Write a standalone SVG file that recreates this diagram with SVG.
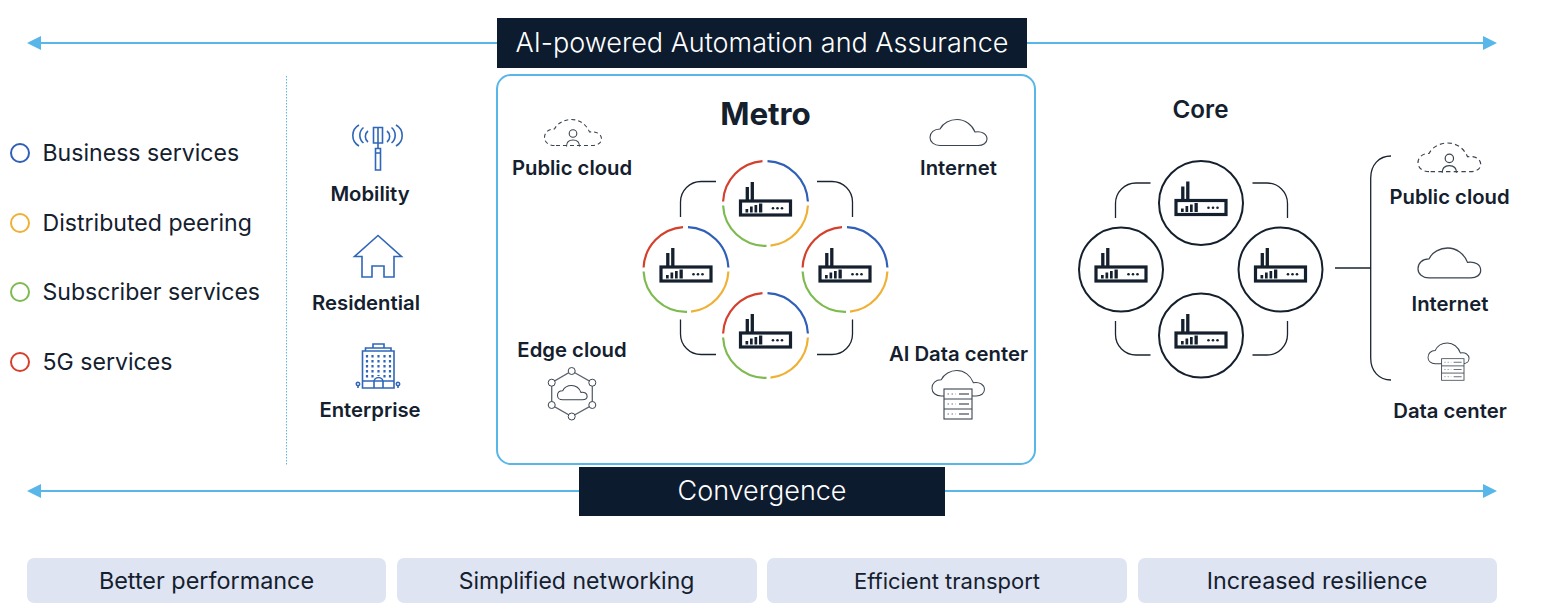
<svg xmlns="http://www.w3.org/2000/svg" width="1548" height="611" viewBox="0 0 1548 611">
<style>
text{font-family:Inter,"Liberation Sans",sans-serif;fill:#14202e}
.lbl{font-size:20.300px;font-weight:600;text-anchor:middle}
.leg{font-size:23.100px}
.pill{fill:#dfe4f2}
.pt{text-anchor:middle}
.ban{fill:#0d1b2e}
.bt{font-size:27px;font-weight:300;fill:#fff;text-anchor:middle}
.blue{fill:none;stroke:#58b7e8;stroke-width:2}
.con{fill:none;stroke:#1a2430;stroke-width:1.300}
.ic{fill:none;stroke:#2f66b8;stroke-width:1.600}
.arc{fill:none;stroke-width:2.200}
.ring{fill:#fff;stroke:#14202e;stroke-width:2}
</style>
<defs>
<marker id="ah" markerUnits="userSpaceOnUse" markerWidth="14" markerHeight="14" refX="0" refY="7" orient="auto-start-reverse"><path d="M0 0L14 7L0 14Z" fill="#58b7e8"/></marker>
<path id="cl" d="M10 26C4 26 0 22.500 0 18C0 13 4 9.500 10 9.500C13 3.500 20 0 27 0C35 0 42 5 45 12.500C52 11.500 57 14.500 57 19.500C57 23.500 53 26 48 26Z"/>
<g id="rt">
<rect x="-25" y="-2.500" width="50" height="14" fill="#fff" stroke="#14202e" stroke-width="3.200"/>
<path d="M-18.200-3V-16.500M-13.200-3V-21.500" fill="none" stroke="#14202e" stroke-width="3.300"/>
<path d="M-20 9H-17.300V5.500H-20ZM-15.500 9H-12.800V3H-15.500ZM-11 9H-8.300V1.500H-11ZM-6.500 9H-3.200V0H-6.500Z" fill="#14202e"/>
<circle cx="7.500" cy="4.800" r="1.300" fill="#14202e"/><circle cx="12" cy="4.800" r="1.300" fill="#14202e"/><circle cx="16.500" cy="4.800" r="1.300" fill="#14202e"/>
</g>
<g id="cr">
<path class="arc" stroke="#2f5fb8" d="M2 -42.400A42.500 42.500 0 0 1 42.400 -2"/>
<path class="arc" stroke="#efb034" d="M42.400 2A42.500 42.500 0 0 1 5 42.200"/>
<path class="arc" stroke="#7dba50" d="M1 42.400A42.500 42.500 0 0 1 -42.400 2"/>
<path class="arc" stroke="#d4402c" d="M-42.400 -2A42.500 42.500 0 0 1 -3 -42.400"/>
<use href="#rt"/>
</g>
<g id="kr"><circle r="42" class="ring"/><use href="#rt"/></g>
<g id="pub">
<path d="M10 26C4 26 0 22.500 0 18C0 13 4 9.500 10 9.500C13 3.500 20 0 27 0C35 0 42 5 45 12.500C52 11.500 57 14.500 57 19.500C57 23.500 53 26 48 26Z" fill="none" stroke="#3b4450" stroke-width="1.100" stroke-dasharray="4 3"/>
<circle cx="28.500" cy="14" r="3.800" fill="none" stroke="#3b4450" stroke-width="1.100"/>
<path d="M22 27C22 22 25 20.500 28.500 20.500C32 20.500 35 22 35 27" fill="none" stroke="#3b4450" stroke-width="1.100"/>
</g>
<g id="dc">
<rect x="12" y="19" width="28" height="30" fill="#fff" stroke="#3b4450" stroke-width="1.100"/>
<path d="M12 29H40M12 39H40" stroke="#3b4450" stroke-width="1.100"/>
<path d="M15.500 24H24M15.500 34H24M15.500 44H24" stroke="#6a727c" stroke-width="1" stroke-dasharray="1.500 2.500"/>
<path d="M27 24H37M27 34H37M27 44H37" stroke="#6a727c" stroke-width="1.300"/>
</g>
</defs>

<g id="connectors">
<path class="blue" marker-start="url(#ah)" d="M41 43H497"/>
<path class="blue" marker-end="url(#ah)" d="M1027 43H1483"/>
<path class="blue" marker-start="url(#ah)" d="M41 491H579"/>
<path class="blue" marker-end="url(#ah)" d="M945 491H1483"/>
<path d="M286.500 76V466" fill="none" stroke="#58b7e8" stroke-width="1" stroke-dasharray="1.500 1.500"/>
<path class="con" d="M716 181.500H701A20.500 20.500 0 0 0 680.500 202V217"/>
<path class="con" d="M817 181.500H832A20.500 20.500 0 0 1 852.500 202V217"/>
<path class="con" d="M680.500 319.500V334A20.500 20.500 0 0 0 701 354.500H716"/>
<path class="con" d="M852.500 319.500V334A20.500 20.500 0 0 1 832 354.500H817"/>
<path class="con" d="M1150.500 183H1136A20.500 20.500 0 0 0 1115.500 203.500V218"/>
<path class="con" d="M1252.500 183H1267A20.500 20.500 0 0 1 1287.500 203.500V218"/>
<path class="con" d="M1115.500 321V334.500A20.500 20.500 0 0 0 1136 355H1150.500"/>
<path class="con" d="M1287.500 321V334.500A20.500 20.500 0 0 1 1267 355H1252.500"/>
<path class="con" d="M1391 156C1379 156 1370.700 165 1370.700 178V358C1370.700 371 1379 380 1391 380M1335 268H1370.700"/>
</g>

<g id="frame"><rect x="497" y="75" width="538" height="389" rx="14" fill="none" stroke="#58b7e8" stroke-width="2"/></g>
<g id="banner-top"><rect class="ban" x="497" y="18" width="530" height="50"/><text class="bt" x="762" y="52">AI-powered Automation and Assurance</text></g>
<g id="banner-bottom"><rect class="ban" x="579" y="467" width="366" height="49"/><text class="bt" x="762" y="500">Convergence</text></g>

<g id="legend">
<circle cx="20" cy="153" r="9" fill="none" stroke="#2f5fb8" stroke-width="2"/><text class="leg" x="42.500" y="161">Business services</text>
<circle cx="20" cy="223" r="9" fill="none" stroke="#efb034" stroke-width="2"/><text class="leg" x="42.500" y="231">Distributed peering</text>
<circle cx="20" cy="292" r="9" fill="none" stroke="#7dba50" stroke-width="2"/><text class="leg" x="42.500" y="300">Subscriber services</text>
<circle cx="20" cy="362" r="9" fill="none" stroke="#d4402c" stroke-width="2"/><text class="leg" x="42.500" y="370">5G services</text>
</g>

<g id="mobility">
<path class="ic" d="M359 125A12 12 0 0 0 359 146M363.500 127.500A10 10 0 0 0 363.500 143M368 131A7 7 0 0 0 368 142M396 125A12 12 0 0 1 396 146M391.500 127.500A10 10 0 0 1 391.500 143M387 131A7 7 0 0 1 387 142"/>
<path class="ic" d="M373.500 127.500H382.500V143H373.500ZM378 127V149M375.500 148.500H380.500V170H375.500ZM375.500 153H380.500"/>
<text class="lbl" x="370" y="201">Mobility</text>
</g>
<g id="residential">
<path class="ic" d="M378 235.500L354.500 256.500H362V277H372V266H384V277H394V256.500H401.500Z"/>
<text class="lbl" x="366" y="310">Residential</text>
</g>
<g id="enterprise">
<path class="ic" d="M362.500 351H394V388H362.500ZM365.500 348H391V351H365.500ZM373 344H384V348H373ZM362.500 381H394"/>
<path d="M367 355V378M372.500 355V378M378.500 355V376M384.500 355V378M390 355V378" stroke="#2f66b8" stroke-width="2.200" stroke-dasharray="2.500 2.500" fill="none"/>
<path class="ic" d="M374 388V382A4.500 4.500 0 0 1 383 382V388M358 385V388M398 385V388"/>
<circle class="ic" cx="358" cy="384" r="1.700"/><circle class="ic" cx="398" cy="384" r="1.700"/>
<text class="lbl" x="370" y="417">Enterprise</text>
</g>

<g id="metro-title"><text x="765.500" y="125" font-size="31.400" font-weight="700" text-anchor="middle">Metro</text></g>
<g id="metro-public"><use href="#pub" transform="translate(544.500 119.500)"/><text class="lbl" x="572" y="175">Public cloud</text></g>
<g id="metro-internet"><use href="#cl" x="930" y="119.500" fill="none" stroke="#3b4450" stroke-width="1.100"/><text class="lbl" x="958.500" y="175">Internet</text></g>
<g id="metro-edge">
<text class="lbl" x="572" y="357">Edge cloud</text>
<path fill="none" stroke="#5c646e" stroke-width="1.300" d="M571.700 371L592.300 382.700V405L571.700 416.500L551.700 405V382.700Z"/>
<g fill="#fff" stroke="#3b4450" stroke-width="1"><circle cx="571.700" cy="371" r="3.500"/><circle cx="592.300" cy="382.700" r="3.500"/><circle cx="592.300" cy="405" r="3.500"/><circle cx="571.700" cy="416.500" r="3.500"/><circle cx="551.700" cy="405" r="3.500"/><circle cx="551.700" cy="382.700" r="3.500"/></g>
<use href="#cl" transform="translate(557.500 385.500) scale(.52 .55)" fill="none" stroke="#3b4450" stroke-width="2"/>
</g>
<g id="metro-ai"><text class="lbl" x="958.500" y="361">AI Data center</text>
<use href="#cl" transform="translate(932 370.500) scale(.92 .98)" fill="none" stroke="#3b4450" stroke-width="1.100"/>
<use href="#dc" transform="translate(932 370)"/></g>

<g id="metro-top"><use href="#cr" x="765.500" y="203.500"/></g>
<g id="metro-left"><use href="#cr" x="686" y="269.500"/></g>
<g id="metro-right"><use href="#cr" x="845" y="269.500"/></g>
<g id="metro-bottom"><use href="#cr" x="765.500" y="335.500"/></g>

<g id="core-title"><text x="1200.500" y="118" font-size="24.200" font-weight="600" text-anchor="middle">Core</text></g>
<g id="core-top"><use href="#kr" x="1201" y="203"/></g>
<g id="core-left"><use href="#kr" x="1121" y="269.500"/></g>
<g id="core-right"><use href="#kr" x="1280.500" y="269.500"/></g>
<g id="core-bottom"><use href="#kr" x="1201" y="335.500"/></g>

<g id="core-public"><use href="#pub" transform="translate(1418 143) scale(1.100 1.100)"/><text class="lbl" x="1449.500" y="204">Public cloud</text></g>
<g id="core-internet"><use href="#cl" transform="translate(1418 248) scale(1.100 1.150)" fill="none" stroke="#3b4450" stroke-width="1.100"/><text class="lbl" x="1450" y="311">Internet</text></g>
<g id="core-dc">
<use href="#cl" transform="translate(1428 343) scale(.72 .8)" fill="none" stroke="#3b4450" stroke-width="1.300"/>
<use href="#dc" transform="translate(1432 345) scale(.8 .72)"/>
<text class="lbl" x="1450" y="418">Data center</text></g>

<g id="benefit-1"><rect class="pill" x="27" y="558" width="359" height="45" rx="7"/><text class="pt" font-size="23.400" x="206.500" y="589">Better performance</text></g>
<g id="benefit-2"><rect class="pill" x="397" y="558" width="360" height="45" rx="7"/><text class="pt" font-size="23" x="576.500" y="589">Simplified networking</text></g>
<g id="benefit-3"><rect class="pill" x="767" y="558" width="360" height="45" rx="7"/><text class="pt" font-size="22" x="947" y="589">Efficient transport</text></g>
<g id="benefit-4"><rect class="pill" x="1138" y="558" width="359" height="45" rx="7"/><text class="pt" font-size="23.300" x="1317" y="589">Increased resilience</text></g>
</svg>
